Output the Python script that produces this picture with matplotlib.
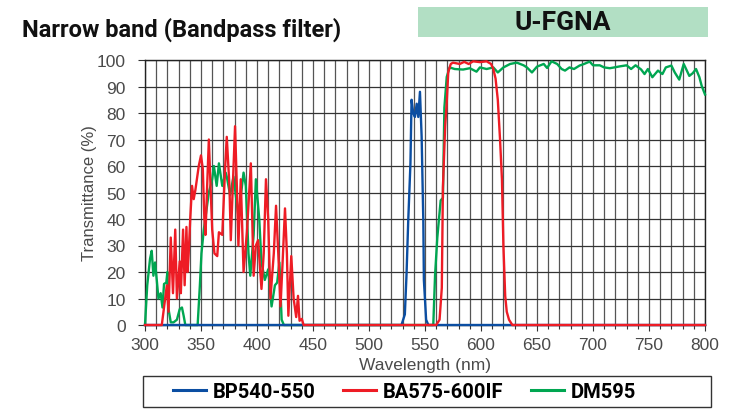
import matplotlib
matplotlib.use("Agg")
import matplotlib.pyplot as plt
from matplotlib.patches import Rectangle
from matplotlib.lines import Line2D
import numpy as np

# ---------------- data ----------------
bp_wl = [300, 529, 532, 533.5, 535, 537, 538, 539.5, 541, 542.6, 544, 545.5, 547, 548.5, 549, 551, 553, 800]
bp_t = [0, 0, 4, 19, 39, 61, 85, 80, 78.5, 83.5, 78.5, 88, 71, 39, 17, 2, 0, 0]

ba_wl = [300, 315, 318, 319.5, 321, 323, 325, 327, 328.5, 331, 332, 334, 335.4, 337, 338, 339,
         340.5, 342, 343.5, 345, 348, 350, 351.6, 353, 354, 355.5, 357, 358.5, 360, 362, 364.5,
         366, 369, 371.5, 373, 375.4, 376.6, 378.4, 380.4, 382, 383.4, 385.5, 388, 391, 394.5,
         397, 399, 401, 404, 406, 408, 410, 412, 415, 417, 419, 421, 423, 425, 426.7, 428, 430.6,
         432.7, 435, 436.6, 438, 440, 441.6, 560, 563, 565, 566, 568, 569.4, 570.8, 573, 575, 581,
         585, 589, 593, 599, 605, 609, 611, 613, 615, 617, 618.7, 620, 621.6, 623, 625, 628, 800]
ba_t = [0, 0, 10, 15, 5, 33, 12, 36, 10, 24, 12, 36, 15, 37, 20, 27,
        41, 52.5, 47.5, 51, 60, 64, 59, 40, 34, 52.5, 70, 52.5, 36, 27, 26,
        35, 34, 59, 71, 52.5, 32, 52.5, 75, 52.5, 30, 55, 20, 35, 61,
        18.6, 30, 32, 13.6, 27, 55, 40, 10, 27, 45, 27, 7, 25, 44, 27, 3.5, 26,
        10, 3, 11, 1.6, 2.3, 0, 0, 2, 14, 52, 75, 84, 95.6, 98.5, 99, 98.5,
        99.3, 98.5, 99.5, 99.2, 99.5, 98.5, 96.6, 93, 85, 70, 55, 30, 11, 5, 2, 0, 0]

dm_wl = [300, 302, 304.5, 306, 307.5, 309, 310.5, 312, 314, 315.6, 317, 319, 320, 321, 323,
         325.5, 328.5, 331, 333, 334.5, 336, 347, 349, 350.4, 352.5, 354.6, 357, 360, 361.5, 364,
         366, 369, 372, 373, 376, 379, 383.4, 388, 390, 392.4, 394, 397, 399, 402, 404, 407, 410,
         413, 416, 418, 420, 422, 424, 557.4, 559, 561, 562.6, 564, 566, 567.3, 569.4, 572,
         576.5, 580, 584, 590, 596, 599, 605, 611, 615, 620, 626, 632, 638, 641, 645.5, 650,
         656, 659, 663, 668, 672, 675, 679, 683, 688, 692, 697, 700, 706, 710, 715, 719, 724,
         730, 734, 738, 743, 746, 749, 753, 758, 762, 765, 770, 773, 777, 781, 786, 789, 792,
         795, 797, 800]
dm_t = [0, 15, 25, 28, 18.6, 23.6, 17, 10, 12, 6.6, 15.5, 16, 20, 6, 1,
        1, 2, 6, 6.6, 3.5, 0, 0, 15, 27, 36, 42.5, 50, 55, 60, 52.5,
        61, 52.5, 57.5, 56, 49, 56, 41, 57.5, 52.5, 27, 18.6, 34, 55, 40, 23.6, 17, 21,
        7, 15, 16, 23.6, 2, 0, 0, 19, 33, 40.6, 47, 48, 82, 93.6, 97.2,
        96.6, 96.5, 96.4, 96.9, 95.6, 97.2, 96.6, 97.2, 95.3, 97.2, 98.5, 99, 98, 97.2, 95.3, 97.5,
        98.5, 97, 99.5, 98.5, 96.6, 96, 97.2, 96.6, 97.9, 98.5, 99.4, 98, 98, 97.2, 96.9, 97.2, 97.6,
        98, 96.6, 98, 96.4, 94.7, 96.6, 93.5, 96, 94.7, 97.2, 97.9, 95.3, 92.6, 98.5, 94, 95, 96.6,
        93.5, 90.3, 87]

series_labels = ["BP540-550", "BA575-600IF", "DM595"]
series_colors = ["#0b4ea2", "#ee1c25", "#00a651"]
x_ticks = list(range(300, 801, 50))
y_ticks = list(range(0, 101, 10))
title = "Narrow band (Bandpass filter)"
badge = "U-FGNA"

# ---------------- fonts ----------------
COND = ["Liberation Sans Narrow", "Roboto", "DejaVu Sans"]
REG = ["Liberation Sans", "DejaVu Sans"]
plt.rcParams["font.family"] = REG

W, H = 732, 414
fig = plt.figure(figsize=(W / 100, H / 100), dpi=100)
ax = fig.add_axes([145 / W, 1 - 326 / H, 560 / W, 265 / H])

ax.set_xlim(300, 800)
ax.set_ylim(0, 100)
ax.set_xticks(x_ticks)
ax.set_xticks(np.arange(300, 801, 10), minor=True)
ax.set_yticks(y_ticks)
ax.grid(which="both", axis="x", color="#555555", lw=0.9, zorder=1)
ax.grid(which="major", axis="y", color="#333333", lw=0.9, zorder=1)
ax.set_axisbelow(True)
for s in ax.spines.values():
    s.set_color("#222222")
    s.set_linewidth(1.0)
ax.tick_params(axis="both", which="major", direction="out", length=4, width=0.8,
               color="#333333", labelsize=12.5, labelcolor="#4a4a4a")
ax.tick_params(axis="y", which="major", pad=9, length=5)
ax.tick_params(axis="x", which="major", pad=5)
ax.tick_params(axis="x", which="minor", direction="out", length=3, width=0.8, color="#333333")

lw = 1.7
ax.plot(dm_wl, dm_t, color=series_colors[2], lw=lw, zorder=3, clip_on=False)
ax.plot(bp_wl, bp_t, color=series_colors[0], lw=lw, zorder=4, clip_on=False)
ax.plot(ba_wl, ba_t, color=series_colors[1], lw=lw, zorder=5, clip_on=False)

ax.set_xlabel("Wavelength (nm)", fontsize=12.5, color="#4a4a4a")
ax.set_ylabel("Transmittance (%)", fontsize=12, color="#4a4a4a")
ax.xaxis.set_label_coords(0.5, (326 - 358) / 265)
ax.yaxis.set_label_coords((97 - 145) / 560, 0.5)

# title and badge
fig.text(22 / W, 1 - 30 / H, title, ha="left", va="center", fontsize=17,
         fontweight="bold", family=COND, color="#111111")
fig.patches.append(Rectangle((418 / W, 1 - 38 / H), 290 / W, 30 / H, transform=fig.transFigure,
                             facecolor="#b2dfc4", edgecolor="none"))
fig.text(563 / W, 1 - 23 / H, badge, ha="center", va="center", fontsize=19,
         fontweight="bold", family=COND, color="#111111")

# legend
fig.patches.append(Rectangle((143 / W, 1 - 408 / H), (711 - 143) / W, 31 / H,
                             transform=fig.transFigure, fill=False, edgecolor="#333333", lw=1.0))
handles = [Line2D([], [], color=c, lw=2.2) for c in series_colors]
fig.legend(handles, series_labels, loc="center left", bbox_to_anchor=(173 / W, 1 - 392.5 / H),
           ncol=3, frameon=False, borderpad=0, borderaxespad=0, handlelength=1.64,
           handletextpad=0.35, columnspacing=1.35,
           prop={"family": COND, "weight": "bold", "size": 14.5})

fig.savefig("out.png", dpi=100)
